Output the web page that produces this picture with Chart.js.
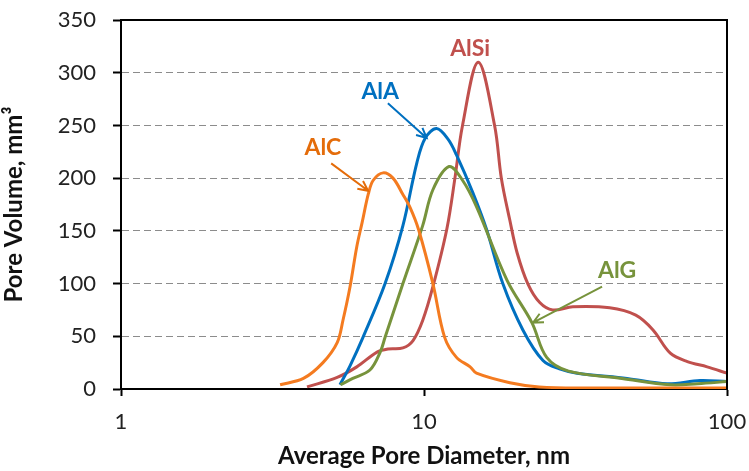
<!DOCTYPE html>
<html>
<head>
<meta charset="utf-8">
<script src="https://cdn.jsdelivr.net/npm/chart.js@4/dist/chart.umd.min.js"></script>
<style>
  html, body { margin: 0; padding: 0; background: #fff; }
  #wrap { width: 749px; height: 471px; }
</style>
</head>
<body>
<div id="wrap"><canvas id="poreChart"></canvas></div>
<script>
// pore size distributions: diameter (nm) vs volume (mm3)
const alcDiameter = [3.35, 4.0, 4.64, 5.17, 5.4, 5.7, 6.0, 6.25, 6.55, 6.8, 7.33, 7.9, 8.5, 9.0, 9.6, 10.7, 11.7, 12.8, 14.2, 14.9, 19.2, 24, 35, 60, 100];
const alcVolume   = [4, 10, 25, 44, 65, 97, 135, 158, 185, 198, 205, 200, 185, 172, 151, 100, 49, 30, 21, 15, 6, 2, 1, 1, 1];

const alaDiameter = [5.28, 5.7, 6.29, 7.44, 8.52, 9.48, 10.1, 11.0, 12.0, 12.8, 14.5, 16.1, 18.2, 21.2, 24.7, 28, 32, 46.8, 63.4, 81.5, 100];
const alaVolume   = [4, 22, 49, 100, 155, 215, 238, 247, 237, 222, 186, 151, 100, 56, 27, 19, 15, 10, 5, 8, 7];

const algDiameter = [5.3, 5.82, 6.63, 7.17, 7.44, 8.52, 9.9, 10.7, 12.1, 13.4, 14.9, 18.8, 22.7, 25.4, 30, 45, 65, 80, 100];
const algVolume   = [4, 10, 18, 35, 49, 100, 155, 189, 211, 198, 173, 103, 63, 30, 17, 10, 4, 5, 7];

const alsiDiameter = [4.11, 5.17, 6.0, 7.0, 7.6, 8.52, 9.2, 9.9, 10.7, 11.9, 12.65, 13.4, 15.1, 17.1, 18.0, 19.2, 20.3, 22, 24.1, 26.6, 31, 41, 50, 57, 65, 74, 86, 100];
const alsiVolume   = [2, 11, 21, 35, 38, 39, 46, 65, 97, 152, 200, 250, 310, 250, 200, 160, 129, 100, 82, 75, 78, 77, 70, 56, 34, 26, 21, 15];

const xTicks = [1, 10, 100];

// labels and arrows, in data units
const notes = [
  { text: 'AlC',  color: '#E46C0A', at: [4.64, 229], from: [4.94, 214], to: [6.54, 188] },
  { text: 'AlA',  color: '#0070C0', at: [7.17, 282], from: [7.6, 271],  to: [10.2, 238] },
  { text: 'AlSi', color: '#C0504D', at: [14.2, 323] },
  { text: 'AlG',  color: '#77933C', at: [43.4, 112], from: [38.7, 97],  to: [22.9, 63] },
];

const FONT = 'Lato, "Open Sans", sans-serif';

function pts(xs, ys) {
  return xs.map((x, i) => ({ x, y: ys[i] }));
}

function series(label, xs, ys, color) {
  return {
    label,
    data: pts(xs, ys),
    borderColor: color,
    backgroundColor: color,
    borderWidth: 3,
    pointRadius: 0,
    tension: 0.35,
    fill: false,
  };
}

const framePlugin = {
  id: 'frame',
  afterDatasetsDraw(chart) {
    const { ctx, chartArea: a } = chart;
    ctx.save();
    ctx.strokeStyle = '#000';
    ctx.lineWidth = 2;
    ctx.beginPath();
    ctx.moveTo(a.left, a.top);
    ctx.lineTo(a.right, a.top);
    ctx.lineTo(a.right, a.bottom);
    ctx.stroke();
    ctx.restore();
  }
};

const notesPlugin = {
  id: 'notes',
  afterDatasetsDraw(chart) {
    const { ctx } = chart;
    const xs = chart.scales.x, ys = chart.scales.y;
    ctx.save();
    ctx.font = 'bold 23px ' + FONT;
    ctx.textAlign = 'center';
    ctx.textBaseline = 'middle';
    notes.forEach(n => {
      ctx.fillStyle = n.color;
      ctx.fillText(n.text, xs.getPixelForValue(n.at[0]), ys.getPixelForValue(n.at[1]));
      if (!n.from) return;
      const x1 = xs.getPixelForValue(n.from[0]), y1 = ys.getPixelForValue(n.from[1]);
      const x2 = xs.getPixelForValue(n.to[0]), y2 = ys.getPixelForValue(n.to[1]);
      const ang = Math.atan2(y2 - y1, x2 - x1);
      ctx.strokeStyle = n.color;
      ctx.lineWidth = 2;
      ctx.beginPath();
      ctx.moveTo(x1, y1);
      ctx.lineTo(x2, y2);
      ctx.moveTo(x2 - 11 * Math.cos(ang - 0.45), y2 - 11 * Math.sin(ang - 0.45));
      ctx.lineTo(x2, y2);
      ctx.lineTo(x2 - 11 * Math.cos(ang + 0.45), y2 - 11 * Math.sin(ang + 0.45));
      ctx.stroke();
    });
    ctx.restore();
  }
};

new Chart(document.getElementById('poreChart'), {
  type: 'line',
  data: {
    datasets: [
      series('AlC', alcDiameter, alcVolume, '#F47B20'),
      series('AlG', algDiameter, algVolume, '#77933C'),
      series('AlA', alaDiameter, alaVolume, '#0070C0'),
      series('AlSi', alsiDiameter, alsiVolume, '#C0504D'),
    ]
  },
  options: {
    responsive: true,
    maintainAspectRatio: false,
    animation: false,
    layout: { padding: { top: 20, right: 22, left: 0, bottom: 0 } },
    plugins: {
      legend: { display: false },
      tooltip: { enabled: false },
    },
    scales: {
      x: {
        type: 'logarithmic',
        min: 1,
        max: 100,
        afterBuildTicks: s => { s.ticks = xTicks.map(v => ({ value: v })); },
        afterFit: s => { s.height = 82; s.paddingLeft = 0; s.paddingRight = 0; },
        ticks: {
          color: '#222',
          font: { size: 22, family: FONT },
          padding: 13,
          maxRotation: 0,
          callback: v => String(v),
        },
        grid: { drawOnChartArea: false, drawTicks: true, tickLength: 7, tickColor: '#000', tickWidth: 2 },
        border: { color: '#000', width: 2 },
        title: {
          display: true,
          text: 'Average Pore Diameter, nm',
          color: '#111',
          font: { size: 24, weight: 'bold', family: FONT },
          padding: { top: 2, bottom: 0 },
        }
      },
      y: {
        min: 0,
        max: 350,
        afterFit: s => { s.width = 121; s.paddingTop = 0; s.paddingBottom = 0; },
        ticks: {
          stepSize: 50,
          color: '#222',
          font: { size: 22, family: FONT },
          padding: 17,
        },
        grid: {
          color: c => (c.tick.value === 0 || c.tick.value === 350) ? 'rgba(0,0,0,0)' : '#8c8c8c',
          lineWidth: 1,
          tickColor: '#000',
          tickLength: 8,
          tickWidth: 2,
        },
        border: { color: '#000', width: 2, dash: [7, 4] },
        title: {
          display: true,
          text: 'Pore Volume, mm³',
          color: '#111',
          font: { size: 24, weight: 'bold', family: FONT },
          padding: { top: 0, bottom: 2 },
        }
      }
    }
  },
  plugins: [framePlugin, notesPlugin]
});
</script>
</body>
</html>
